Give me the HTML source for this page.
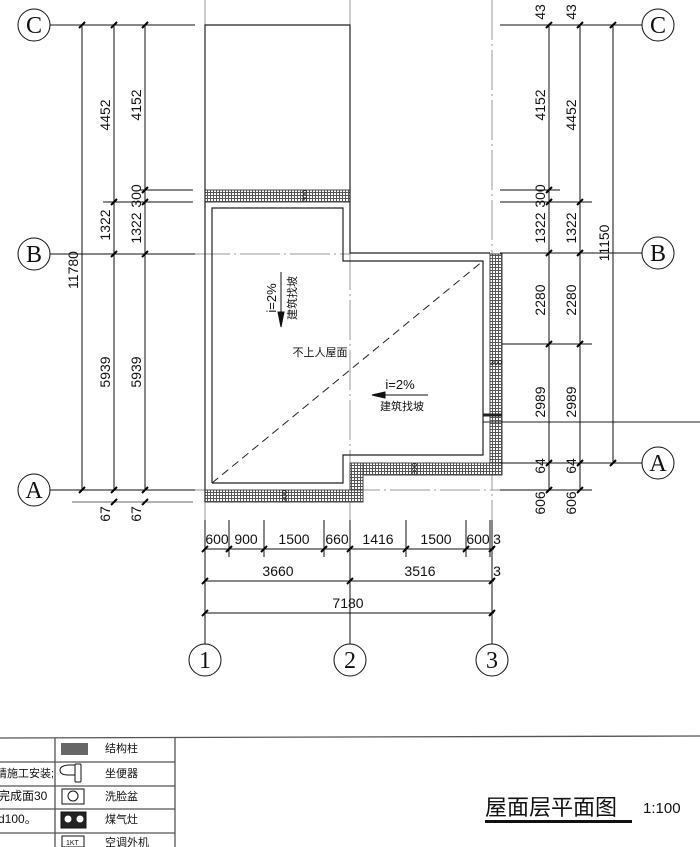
<!DOCTYPE html>
<html><head><meta charset="utf-8"><style>
html,body{margin:0;padding:0;background:#fff;}
svg{display:block;}
text{font-family:"Liberation Sans","Noto Sans CJK SC",sans-serif;fill:#111;}
text.s{font-family:"Liberation Serif",serif;}
</style></head><body>
<svg width="700" height="847" viewBox="0 0 700 847" xmlns="http://www.w3.org/2000/svg">
<defs>
<pattern id="h" width="3" height="3" patternUnits="userSpaceOnUse">
<rect width="3" height="3" fill="#fff"/><path d="M0 0.5H3M0.5 0V3" stroke="#555" stroke-width="1"/>
</pattern>
</defs>
<g stroke="#999" stroke-width="1" fill="none" stroke-dasharray="40 4 2 4">
<line x1="205" y1="0" x2="205" y2="645"/>
<line x1="350" y1="0" x2="350" y2="645"/>
<line x1="492" y1="0" x2="492" y2="645"/>
<line x1="190" y1="254" x2="350" y2="254"/>
<line x1="190" y1="490" x2="520" y2="490"/>
</g>
<g stroke="#444" stroke-width="1" fill="url(#h)">
<rect x="205" y="190" width="145" height="12"/>
<rect x="490" y="254" width="12" height="221"/>
<rect x="350" y="463" width="152" height="12"/>
<rect x="350" y="463" width="13" height="39"/>
<rect x="205" y="490" width="158" height="12"/>
</g>
<g stroke="#222" stroke-width="1.2" fill="none">
<polyline points="205,502 205,25 350,25 350,253 490,253"/>
<polyline points="212,483 212,208 343,208 343,261 483,261 483,455 343,455 343,483 212,483"/>
<line x1="483" y1="422" x2="700" y2="422" stroke-width="1"/>
<line x1="483" y1="415" x2="502" y2="415" stroke-width="3"/>
<line x1="212" y1="483" x2="483" y2="261" stroke-dasharray="8 5" stroke-width="1"/>
</g>
<g stroke="#111" stroke-width="1" fill="none">
<line x1="50" y1="25" x2="195" y2="25"/>
<line x1="50" y1="254" x2="195" y2="254"/>
<line x1="50" y1="490" x2="195" y2="490"/>
<line x1="140" y1="190" x2="193" y2="190"/>
<line x1="103" y1="202" x2="193" y2="202"/>
<line x1="72" y1="502" x2="193" y2="502" stroke="#666"/>
<line x1="82" y1="25" x2="82" y2="490"/>
<line x1="114" y1="25" x2="114" y2="490"/>
<line x1="145" y1="25" x2="145" y2="490"/>
<line x1="549" y1="25" x2="549" y2="490"/>
<line x1="580" y1="25" x2="580" y2="490"/>
<line x1="613" y1="25" x2="613" y2="463"/>
<line x1="500" y1="25" x2="643" y2="25"/>
<line x1="500" y1="253" x2="643" y2="253"/>
<line x1="500" y1="463" x2="643" y2="463"/>
<line x1="500" y1="190" x2="560" y2="190"/>
<line x1="500" y1="202" x2="592" y2="202"/>
<line x1="502" y1="344" x2="592" y2="344"/>
<line x1="500" y1="490" x2="592" y2="490"/>
<line x1="205" y1="520" x2="205" y2="645"/>
<line x1="350" y1="520" x2="350" y2="645"/>
<line x1="492" y1="520" x2="492" y2="645"/>
<line x1="229" y1="520" x2="229" y2="557"/>
<line x1="264" y1="520" x2="264" y2="557"/>
<line x1="324" y1="520" x2="324" y2="557"/>
<line x1="406" y1="520" x2="406" y2="557"/>
<line x1="466" y1="520" x2="466" y2="557"/>
<line x1="490" y1="520" x2="490" y2="557"/>
<line x1="205" y1="549" x2="494" y2="549"/>
<line x1="205" y1="581" x2="494" y2="581"/>
<line x1="205" y1="613" x2="494" y2="613"/>
</g>
<g stroke="#000" stroke-width="2">
<path d="M79 28l6-6M111 28l6-6M142 28l6-6M111 257l6-6M142 257l6-6M79 493l6-6M111 493l6-6M142 493l6-6M111 205l6-6M142 205l6-6M142 193l6-6M111 505l6-6M142 505l6-6
M546 28l6-6M577 28l6-6M610 28l6-6M546 193l6-6M546 205l6-6M577 205l6-6M546 256l6-6M577 256l6-6M546 347l6-6M577 347l6-6M546 466l6-6M577 466l6-6M610 466l6-6M546 493l6-6M577 493l6-6
M202 552l6-6M226 552l6-6M261 552l6-6M321 552l6-6M347 552l6-6M403 552l6-6M463 552l6-6M489 552l6-6M202 584l6-6M347 584l6-6M489 584l6-6M202 616l6-6M489 616l6-6"/>
</g>
<g font-size="14">
<text transform="translate(78,270) rotate(-90)" text-anchor="middle">11780</text>
<text transform="translate(110,115) rotate(-90)" text-anchor="middle">4452</text>
<text transform="translate(110,225) rotate(-90)" text-anchor="middle">1322</text>
<text transform="translate(110,372) rotate(-90)" text-anchor="middle">5939</text>
<text transform="translate(110,514) rotate(-90)" text-anchor="middle">67</text>
<text transform="translate(141,105) rotate(-90)" text-anchor="middle">4152</text>
<text transform="translate(141,196) rotate(-90)" text-anchor="middle">300</text>
<text transform="translate(141,228) rotate(-90)" text-anchor="middle">1322</text>
<text transform="translate(141,372) rotate(-90)" text-anchor="middle">5939</text>
<text transform="translate(141,514) rotate(-90)" text-anchor="middle">67</text>
<text transform="translate(545,12) rotate(-90)" text-anchor="middle">43</text>
<text transform="translate(545,105) rotate(-90)" text-anchor="middle">4152</text>
<text transform="translate(545,196) rotate(-90)" text-anchor="middle">300</text>
<text transform="translate(545,228) rotate(-90)" text-anchor="middle">1322</text>
<text transform="translate(545,300) rotate(-90)" text-anchor="middle">2280</text>
<text transform="translate(545,402) rotate(-90)" text-anchor="middle">2989</text>
<text transform="translate(545,466) rotate(-90)" text-anchor="middle">64</text>
<text transform="translate(545,503) rotate(-90)" text-anchor="middle">606</text>
<text transform="translate(576,12) rotate(-90)" text-anchor="middle">43</text>
<text transform="translate(576,115) rotate(-90)" text-anchor="middle">4452</text>
<text transform="translate(576,228) rotate(-90)" text-anchor="middle">1322</text>
<text transform="translate(576,300) rotate(-90)" text-anchor="middle">2280</text>
<text transform="translate(576,402) rotate(-90)" text-anchor="middle">2989</text>
<text transform="translate(576,466) rotate(-90)" text-anchor="middle">64</text>
<text transform="translate(576,503) rotate(-90)" text-anchor="middle">606</text>
<text transform="translate(609,243) rotate(-90)" text-anchor="middle">11150</text>
<text x="217" y="544" text-anchor="middle">600</text>
<text x="246" y="544" text-anchor="middle">900</text>
<text x="294" y="544" text-anchor="middle">1500</text>
<text x="337" y="544" text-anchor="middle">660</text>
<text x="378" y="544" text-anchor="middle">1416</text>
<text x="436" y="544" text-anchor="middle">1500</text>
<text x="478" y="544" text-anchor="middle">600</text>
<text x="497" y="544" text-anchor="middle">3</text>
<text x="278" y="576" text-anchor="middle">3660</text>
<text x="420" y="576" text-anchor="middle">3516</text>
<text x="497" y="576" text-anchor="middle">3</text>
<text x="348" y="608" text-anchor="middle">7180</text>
</g>
<g fill="#fff" stroke="#111" stroke-width="1">
<circle cx="34" cy="25" r="16"/><circle cx="34" cy="254" r="16"/><circle cx="34" cy="490" r="16"/>
<circle cx="658" cy="25" r="16"/><circle cx="658" cy="253" r="16"/><circle cx="658" cy="463" r="16"/>
<circle cx="205" cy="660" r="16"/><circle cx="350" cy="660" r="16"/><circle cx="492" cy="660" r="16"/>
</g>
<g font-size="24" text-anchor="middle">
<text class="s" x="34" y="33">C</text><text class="s" x="34" y="262">B</text><text class="s" x="34" y="498">A</text>
<text class="s" x="658" y="33">C</text><text class="s" x="658" y="261">B</text><text class="s" x="658" y="471">A</text>
<text class="s" x="205" y="668">1</text><text class="s" x="350" y="668">2</text><text class="s" x="492" y="668">3</text>
</g>
<g font-size="11">
<text transform="translate(276,298) rotate(-90)" text-anchor="middle" font-size="13">i=2%</text>
<text transform="translate(296,298) rotate(-90)" text-anchor="middle">建筑找坡</text>
<text x="320" y="356" text-anchor="middle">不上人屋面</text>
<text x="400" y="389" text-anchor="middle" font-size="13">i=2%</text>
<text x="402" y="410" text-anchor="middle">建筑找坡</text>
<text transform="translate(307,196) rotate(-90)" text-anchor="middle" font-size="7">300</text>
<text transform="translate(287,496) rotate(-90)" text-anchor="middle" font-size="7">300</text>
<text transform="translate(417,469) rotate(-90)" text-anchor="middle" font-size="7">300</text>
<text x="496" y="365" text-anchor="middle" font-size="7">300</text>
</g>
<g stroke="#111" fill="#111">
<line x1="281" y1="272" x2="281" y2="318"/><path d="M278 312L281 327L284 312Z"/>
<line x1="373" y1="395" x2="428" y2="395"/><path d="M385 392L372 395L385 398Z"/>
</g>
<g stroke="#555" stroke-width="1.3" fill="none">
<line x1="0" y1="738" x2="700" y2="736"/>
<line x1="55" y1="738" x2="55" y2="847"/>
<line x1="175" y1="738" x2="175" y2="847"/>
<line x1="0" y1="762" x2="175" y2="762"/>
<line x1="0" y1="786" x2="175" y2="786"/>
<line x1="0" y1="809" x2="175" y2="809"/>
<line x1="0" y1="833" x2="175" y2="833"/>
</g>
<rect x="61" y="743" width="27" height="12" fill="#666"/>
<g stroke="#111" fill="none">
<path d="M75 765 H68 Q60 766 60 770 Q60 775 68 775 H75 Z"/><rect x="75" y="764" width="6" height="18" rx="1"/>
<rect x="62" y="789" width="22" height="15"/><circle cx="73" cy="796" r="5"/>
<rect x="61" y="812" width="25" height="16" fill="#222"/>
<rect x="62" y="836" width="22" height="11"/>
</g>
<circle cx="68" cy="819" r="4" fill="#fff" stroke="#222"/><circle cx="80" cy="819" r="4" fill="#fff" stroke="#222"/>
<g font-size="11">
<text x="105" y="752">结构柱</text>
<text x="105" y="777">坐便器</text>
<text x="105" y="800">洗脸盆</text>
<text x="105" y="823">煤气灶</text>
<text x="105" y="846">空调外机</text>
<text x="66" y="845" font-size="7">1KT</text>
<text x="-4" y="777">请施工安装;</text>
<text x="-2" y="800" font-size="12">完成面30</text>
<text x="-2" y="823" font-size="12">d100。</text>
</g>
<text x="485" y="815" font-size="22">屋面层平面图</text>
<rect x="485" y="820" width="147" height="3" fill="#111"/>
<text x="643" y="813" font-size="15">1:100</text>
</svg>
</body></html>
